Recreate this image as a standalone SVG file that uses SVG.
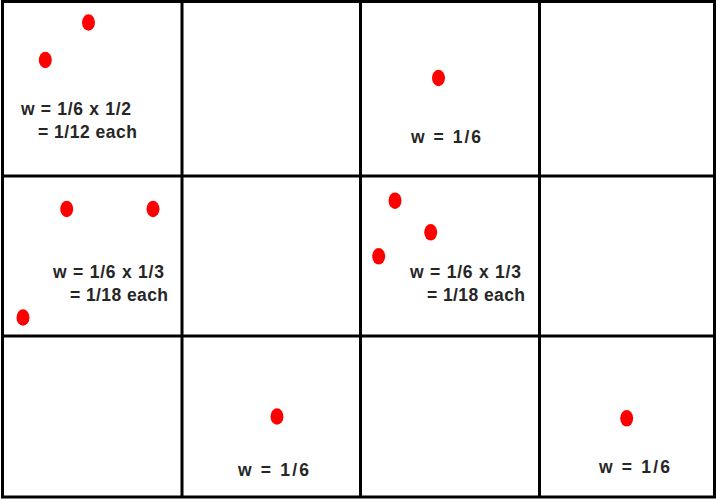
<svg xmlns="http://www.w3.org/2000/svg" width="716" height="499" viewBox="0 0 716 499">
<style>
.grid{stroke:#000;stroke-width:3;fill:none}
.dot{fill:#ff0000}
.lbl{font-family:"Liberation Sans",Arial,sans-serif;font-weight:bold;font-size:17.5px;fill:#262626}
</style>
<rect width="716" height="499" fill="#fff"/>
<g id="grid" class="grid">
<rect x="2.5" y="1.5" width="712" height="495.5"/>
<line x1="182" y1="1.5" x2="182" y2="497"/>
<line x1="360.5" y1="1.5" x2="360.5" y2="497"/>
<line x1="539.5" y1="1.5" x2="539.5" y2="497"/>
<line x1="2.5" y1="176" x2="714.5" y2="176"/>
<line x1="2.5" y1="336" x2="714.5" y2="336"/>
</g>
<g id="connectors"></g>
<g id="cell-r1c1">
<ellipse class="dot" cx="88.5" cy="22.5" rx="6.5" ry="8.3"/>
<ellipse class="dot" cx="45.3" cy="60" rx="6.5" ry="8.3"/>
<text class="lbl" x="21" y="115" textLength="110" lengthAdjust="spacing">w = 1/6 x 1/2</text>
<text class="lbl" x="38" y="138" textLength="99" lengthAdjust="spacing">= 1/12 each</text>
</g>
<g id="cell-r1c3">
<ellipse class="dot" cx="438.5" cy="78" rx="6.5" ry="8.3"/>
<text class="lbl" x="411" y="143" textLength="70" lengthAdjust="spacing">w = 1/6</text>
</g>
<g id="cell-r2c1">
<ellipse class="dot" cx="66.7" cy="209" rx="6.5" ry="8.3"/>
<ellipse class="dot" cx="153" cy="209" rx="6.5" ry="8.3"/>
<ellipse class="dot" cx="23" cy="317.5" rx="6.5" ry="8.3"/>
<text class="lbl" x="53" y="278" textLength="111" lengthAdjust="spacing">w = 1/6 x 1/3</text>
<text class="lbl" x="70" y="301" textLength="98" lengthAdjust="spacing">= 1/18 each</text>
</g>
<g id="cell-r2c3">
<ellipse class="dot" cx="395" cy="200.7" rx="6.5" ry="8.3"/>
<ellipse class="dot" cx="430.7" cy="232.3" rx="6.5" ry="8.3"/>
<ellipse class="dot" cx="378.7" cy="256.3" rx="6.5" ry="8.3"/>
<text class="lbl" x="410" y="278" textLength="111" lengthAdjust="spacing">w = 1/6 x 1/3</text>
<text class="lbl" x="427" y="301" textLength="98" lengthAdjust="spacing">= 1/18 each</text>
</g>
<g id="cell-r3c2">
<ellipse class="dot" cx="277" cy="416.5" rx="6.5" ry="8.3"/>
<text class="lbl" x="238" y="476" textLength="71" lengthAdjust="spacing">w = 1/6</text>
</g>
<g id="cell-r3c4">
<ellipse class="dot" cx="626.7" cy="418.3" rx="6.5" ry="8.3"/>
<text class="lbl" x="599" y="473" textLength="71" lengthAdjust="spacing">w = 1/6</text>
</g>
</svg>
